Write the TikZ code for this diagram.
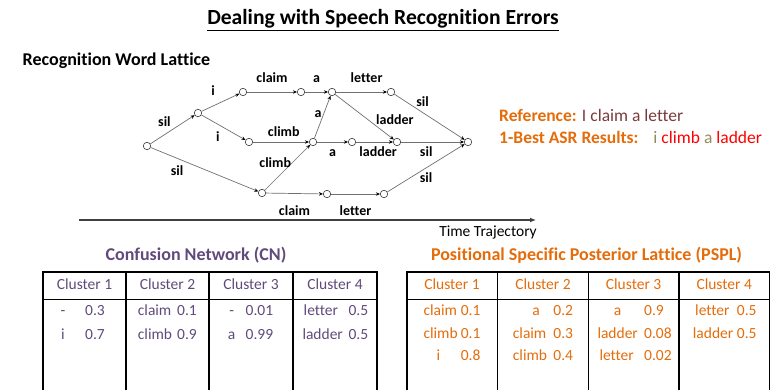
\documentclass[tikz,border=0pt]{standalone}
\usepackage{fontspec}
\setmainfont{Carlito}[Ligatures=CommonOff]
\usetikzlibrary{arrows.meta}
\definecolor{pspl}{HTML}{E46C0A}
\definecolor{cn}{HTML}{604A7B}
\definecolor{refc}{HTML}{7A3B3B}
\definecolor{olive}{HTML}{948A54}
\definecolor{edgec}{HTML}{707070}

\begin{document}
\begin{tikzpicture}[x=1pt,y=-1pt,
    st/.style={circle,draw=black!75,fill=white,inner sep=0pt,minimum size=7.5pt,line width=.6pt},
    lbl/.style={font=\fontsize{14}{14}\selectfont\bfseries,text height=1.5ex,text depth=.25ex,inner sep=1.5pt},
    ed/.style={draw=edgec,line width=.7pt,-{Stealth[length=4pt,width=3.5pt,color=black]}},
    cell/.style={font=\fontsize{15.5}{16}\selectfont,inner sep=0pt,text height=1.5ex,text depth=.25ex},
    head/.style={font=\fontsize{18}{18}\selectfont\bfseries,inner sep=0pt}]
      \useasboundingbox (0,0) rectangle (776,390);
      \clip (0,0) rectangle (776,390);

      % titles
      \node[font=\fontsize{21.6}{22}\selectfont\bfseries] (title) at (383,20)
        {\underline{Dealing with Speech Recognition Errors}};
      \node[head,anchor=west] (rwl) at (22.5,61) {Recognition Word Lattice};

      % lattice states
      \draw
        (147,146) node[st] (0){}
        (198,113) node[st] (1){}
        (243,92) node[st] (2){}
        (301,92) node[st] (3){}
        (332,92) node[st] (4){}
        (391,92) node[st] (5){}
        (249,142) node[st] (6){}
        (313,142) node[st] (7){}
        (352,142) node[st] (8){}
        (397,142) node[st] (9){}
        (468,142) node[st] (10){}
        (262,193) node[st] (11){}
        (327,194) node[st] (12){}
        (384,194) node[st] (13){};
      \begin{scope}[ed]
        \draw (0) to node[lbl,above left] {sil} (1);
        \draw (0) to node[lbl,pos=.32,below left,yshift=-5pt] {sil} (11);
        \draw (1) to node[lbl,pos=.3,above=7pt] {i} (2);
        \draw (1) to node[lbl,below left,xshift=-2pt,yshift=-5pt] {i} (6);
        \draw (2) to node[lbl,above=6pt] {claim} (3);
        \draw (3) to node[lbl,above=6pt] {a} (4);
        \draw (4) to node[lbl,pos=.6,above=6pt] {letter} (5);
        \draw (4) to node[lbl,pos=.6,right=4pt] {ladder} (9);
        \draw (5) to node[lbl,pos=.4,above=3pt] {sil} (10);
        \draw (6) to node[lbl,pos=.55,above=2pt] {climb} (7);
        \draw (7) to node[lbl,pos=.55,left] {a} (4);
        \draw (7) to node[lbl,below=5pt] {a} (8);
        \draw (8) to node[lbl,pos=.6,below=5pt] {ladder} (9);
        \draw (9) to node[lbl,pos=.4,below=5pt] {sil} (10);
        \draw (11) to node[lbl,pos=.62,left,yshift=-2pt] {climb} (7);
        \draw (11) to node[lbl,below=13pt] {claim} (12);
        \draw (12) to node[lbl,below=12pt] {letter} (13);
        \draw (13) to node[lbl,below=5pt] {sil} (10);
      \end{scope}

      % time axis
      \coordinate (t0) at (79,220);
      \coordinate (t1) at (536,220);
      \draw[black!75,line width=1.2pt,-{Latex[length=6pt,width=5pt]}] (t0) -- (t1);
      \node[cell] (time) at (488,234) {Time Trajectory};

      % reference and 1-best
      \node[font=\fontsize{17.5}{18}\selectfont,anchor=west,inner sep=0pt] (ref) at (499,115)
        {\textcolor{pspl}{\bfseries Reference:} \textcolor{refc}{I claim a letter}};
      \node[font=\fontsize{17.5}{18}\selectfont,anchor=west,inner sep=0pt] (best) at (499,137)
        {\textcolor{pspl}{\bfseries 1-Best ASR Results:}\hspace{15pt}\textcolor{olive}{i}
         \textcolor{red}{climb} \textcolor{olive}{a} \textcolor{red}{ladder}};

      % confusion network
      \node[head,text=cn] (cnt) at (196,255) {Confusion Network (CN)};
      \draw[line width=1.2pt] (43,272) rectangle (377,400);
      \draw[line width=1.2pt] (43,299.5) -- (377,299.5);
      \draw[line width=1.2pt] (126,272) -- (126,400);
      \draw[line width=1.2pt] (209,272) -- (209,400);
      \draw[line width=1.2pt] (293,272) -- (293,400);
      \begin{scope}[every node/.style={cell,text=cn}]
        \node (cnh1) at (84.5,286.5) {Cluster 1};
        \node (cnh2) at (167.5,286.5) {Cluster 2};
        \node (cnh3) at (251,286.5) {Cluster 3};
        \node (cnh4) at (335,286.5) {Cluster 4};
        \node (cn1a) at (63,313) {-};
        \node (cn1b) at (95,313) {0.3};
        \node (cn1c) at (63,337) {i};
        \node (cn1d) at (95,337) {0.7};
        \node[anchor=west] (cn2a) at (137.7,313) {claim};
        \node (cn2b) at (187,313) {0.1};
        \node[anchor=west] (cn2c) at (137.7,337) {climb};
        \node (cn2d) at (187,337) {0.9};
        \node (cn3a) at (231.7,313) {-};
        \node[anchor=west] (cn3b) at (245.5,313) {0.01};
        \node (cn3c) at (231.7,337) {a};
        \node[anchor=west] (cn3d) at (245.5,337) {0.99};
        \node[anchor=west] (cn4a) at (303.5,313) {letter};
        \node[anchor=west] (cn4b) at (348.3,313) {0.5};
        \node[anchor=west] (cn4c) at (302.3,337) {ladder};
        \node[anchor=west] (cn4d) at (348.3,337) {0.5};
      \end{scope}

      % position specific posterior lattice
      \node[head,text=pspl] (pst) at (586.5,255) {Positional Specific Posterior Lattice (PSPL)};
      \draw[line width=1.2pt] (407,272) rectangle (769.5,400);
      \draw[line width=1.2pt] (407,299.5) -- (769.5,299.5);
      \draw[line width=1.2pt] (497.3,272) -- (497.3,400);
      \draw[line width=1.2pt] (588.3,272) -- (588.3,400);
      \draw[line width=1.2pt] (679,272) -- (679,400);
      \begin{scope}[every node/.style={cell,text=pspl}]
        \node (psh1) at (452,286.5) {Cluster 1};
        \node (psh2) at (543,286.5) {Cluster 2};
        \node (psh3) at (633.6,286.5) {Cluster 3};
        \node (psh4) at (724.2,286.5) {Cluster 4};
        \node[anchor=west] (ps1a) at (423.3,313) {claim};
        \node[anchor=east] (ps1b) at (480.7,313) {0.1};
        \node[anchor=west] (ps1c) at (423.3,336) {climb};
        \node[anchor=east] (ps1d) at (480.7,336) {0.1};
        \node (ps1e) at (438.3,358) {i};
        \node[anchor=east] (ps1f) at (480.7,358) {0.8};
        \node (ps2a) at (536,313) {a};
        \node[anchor=east] (ps2b) at (573.3,313) {0.2};
        \node[anchor=west] (ps2c) at (512.7,336) {claim};
        \node[anchor=east] (ps2d) at (573.3,336) {0.3};
        \node[anchor=west] (ps2e) at (512.7,358) {climb};
        \node[anchor=east] (ps2f) at (573.3,358) {0.4};
        \node (ps3a) at (617.7,313) {a};
        \node[anchor=west] (ps3b) at (644,313) {0.9};
        \node[anchor=west] (ps3c) at (597.3,336) {ladder};
        \node[anchor=west] (ps3d) at (644,336) {0.08};
        \node[anchor=west] (ps3e) at (599.3,358) {letter};
        \node[anchor=west] (ps3f) at (644,358) {0.02};
        \node[anchor=west] (ps4a) at (695,313) {letter};
        \node[anchor=west] (ps4b) at (736.7,313) {0.5};
        \node[anchor=west] (ps4c) at (692.7,336) {ladder};
        \node[anchor=west] (ps4d) at (736.7,336) {0.5};
      \end{scope}
    \end{tikzpicture}
\end{document}
